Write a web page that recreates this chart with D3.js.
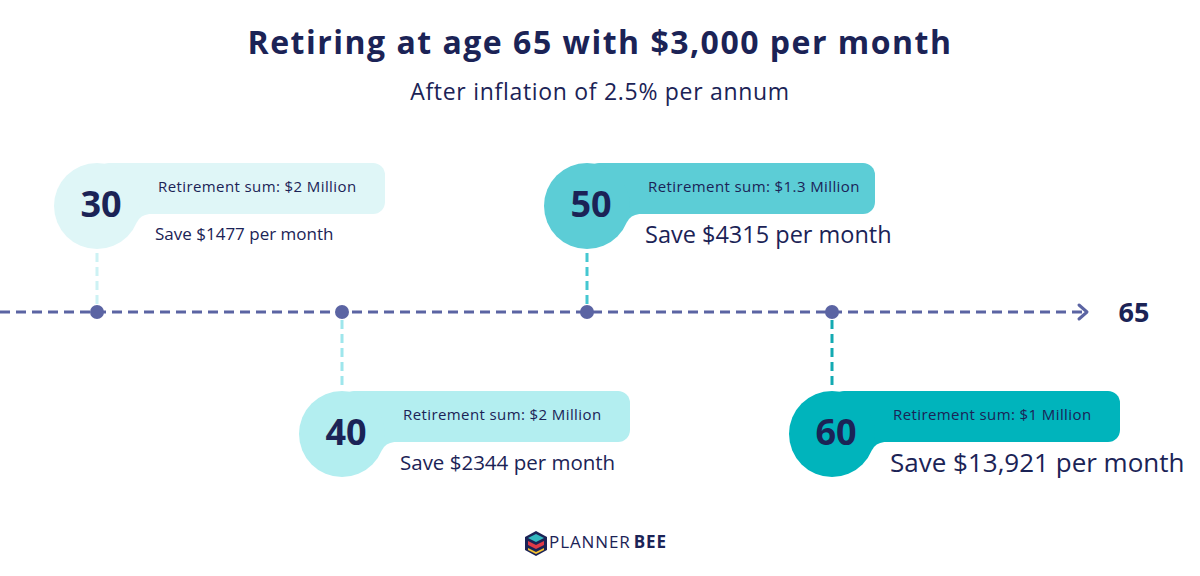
<!DOCTYPE html>
<html>
<head>
<meta charset="utf-8">
<script src="https://cdn.jsdelivr.net/npm/d3@7"></script>
<style>
  body { margin: 0; background: #fff; }
  svg { display: block; font-family: "Open Sans", sans-serif; }
</style>
</head>
<body>
<svg id="chart" width="1200" height="576"></svg>
<script>
// data
const ages = [30, 40, 50, 60];
const retireAge = 65;
const retirementSums = ["$2 Million", "$2 Million", "$1.3 Million", "$1 Million"];
const monthlySavings = [1477, 2344, 4315, 13921];
const titleText = "Retiring at age 65 with $3,000 per month";
const subtitleText = "After inflation of 2.5% per annum";

// styles
const navy = "#1b2356";
const lineColor = "#5b64a3";
const cardFills = ["#dff6f7", "#b3eef0", "#5ccdd6", "#00b4bc"];
const stemColors = ["#cdf2f4", "#9ee6ec", "#45c7d1", "#13aab2"];
const saveSizes = [17, 20.5, 23.5, 26];

const width = 1200;
const lineY = 312;
const cardR = 43;
const rectW = 288;
const rectH = 51;

const svg = d3.select("#chart");

const x = d3.scaleLinear().domain([30, 60]).range([97, 832]);

const fmtSave = n => "$" + (n >= 10000 ? d3.format(",")(n) : n);

// titles
svg.append("text")
  .attr("x", width / 2).attr("y", 54)
  .attr("text-anchor", "middle")
  .attr("fill", navy)
  .attr("font-size", 32).attr("font-weight", 700)
  .attr("letter-spacing", 1.5)
  .text(titleText);

svg.append("text")
  .attr("x", width / 2).attr("y", 100)
  .attr("text-anchor", "middle")
  .attr("fill", navy)
  .attr("font-size", 23).attr("font-weight", 500)
  .attr("letter-spacing", 0.7)
  .text(subtitleText);

// timeline
const arrowEnd = width - 113;
svg.append("line")
  .attr("x1", 0).attr("x2", arrowEnd - 2)
  .attr("y1", lineY).attr("y2", lineY)
  .attr("stroke", lineColor)
  .attr("stroke-width", 3)
  .attr("stroke-dasharray", "10,6");

svg.append("path")
  .attr("d", `M${arrowEnd - 8},${lineY - 7}L${arrowEnd},${lineY}L${arrowEnd - 8},${lineY + 7}`)
  .attr("fill", "none")
  .attr("stroke", lineColor)
  .attr("stroke-width", 3)
  .attr("stroke-linecap", "round")
  .attr("stroke-linejoin", "round");

svg.append("text")
  .attr("x", arrowEnd + 47).attr("y", lineY + 10)
  .attr("text-anchor", "middle")
  .attr("fill", navy)
  .attr("font-size", 27).attr("font-weight", 700)
  .text(retireAge);

// cards
const cards = ages.map((age, i) => ({
  age,
  sum: retirementSums[i],
  save: monthlySavings[i],
  i,
  above: i % 2 === 0
}));

const g = svg.selectAll("g.card")
  .data(cards)
  .join("g")
  .attr("class", "card")
  .attr("transform", d => {
    const cx = x(d.age);
    const cy = d.above ? 206 : 434;
    return `translate(${cx},${cy})`;
  });

// stems
g.append("line")
  .attr("x1", 0).attr("x2", 0)
  .attr("y1", d => d.above ? cardR + 4 : lineY - 434 + 8)
  .attr("y2", d => d.above ? lineY - 206 - 8 : -cardR - 4)
  .attr("stroke", d => stemColors[d.i])
  .attr("stroke-width", 3)
  .attr("stroke-dasharray", "9,5");

g.append("rect")
  .attr("x", 0).attr("y", -cardR)
  .attr("width", rectW).attr("height", rectH)
  .attr("rx", 12)
  .attr("fill", d => cardFills[d.i]);

g.append("circle")
  .attr("r", cardR)
  .attr("fill", d => cardFills[d.i]);

// small fillet where the pill meets the circle
const yb = -cardR + rectH;
const xb = Math.sqrt(cardR * cardR - yb * yb);
g.append("path")
  .attr("d", `M${xb - 3},${yb}L${xb + 10},${yb}Q${xb + 1},${yb + 1} ${xb - 2},${yb + 8}Z`)
  .attr("fill", d => cardFills[d.i]);

g.append("text")
  .attr("x", 4).attr("y", 11)
  .attr("text-anchor", "middle")
  .attr("fill", navy)
  .attr("font-size", 36).attr("font-weight", 700)
  .text(d => d.age);

g.append("text")
  .attr("x", 61).attr("y", -cardR + 29)
  .attr("fill", navy)
  .attr("font-size", 15).attr("font-weight", 500)
  .attr("letter-spacing", 0.4)
  .text(d => "Retirement sum: " + d.sum);

g.append("text")
  .attr("x", 58)
  .attr("y", d => -cardR + rectH + 26 + (saveSizes[d.i] - 17) * 0.45)
  .attr("fill", navy)
  .attr("font-size", d => saveSizes[d.i]).attr("font-weight", 500)
  .text(d => "Save " + fmtSave(d.save) + " per month");

// dots
svg.selectAll("circle.dot")
  .data(ages)
  .join("circle")
  .attr("class", "dot")
  .attr("cx", d => x(d)).attr("cy", lineY)
  .attr("r", 7)
  .attr("fill", lineColor);

// logo
const logo = svg.append("g").attr("transform", "translate(536,544)");
logo.append("path")
  .attr("d", "M0,-13L11,-7L11,6L0,12L-11,6L-11,-7Z")
  .attr("fill", navy);
logo.append("path")
  .attr("d", "M0,-10L8,-6L0,-2L-8,-6Z")
  .attr("fill", "#33b8c0");
logo.append("path")
  .attr("d", "M-8,-3L0,1L8,-3L8,1L0,5L-8,1Z")
  .attr("fill", "#e03a48");
logo.append("path")
  .attr("d", "M-8,4L0,8L8,4L8,6L0,10L-8,6Z")
  .attr("fill", "#f6c330");

const logoText = svg.append("text")
  .attr("x", 549).attr("y", 548)
  .attr("fill", navy)
  .attr("font-size", 17)
  .attr("letter-spacing", 0.9);
logoText.append("tspan").attr("font-weight", 400).text("PLANNER");
logoText.append("tspan").attr("font-weight", 700).attr("dx", 3).text("BEE");
</script>
</body>
</html>
